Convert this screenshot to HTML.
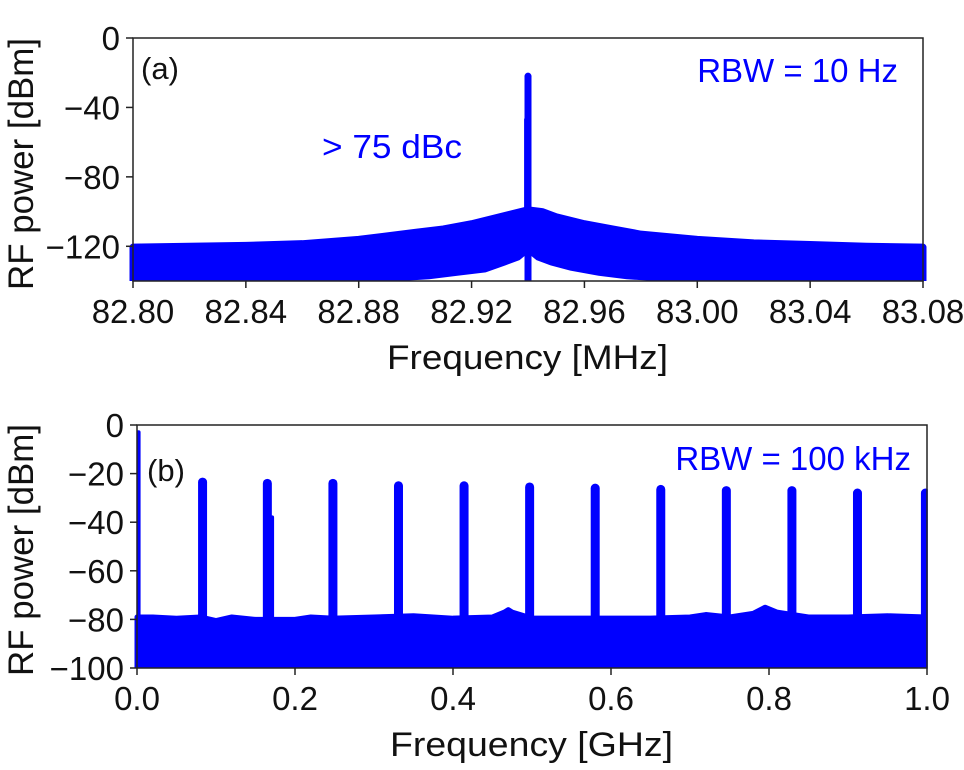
<!DOCTYPE html>
<html><head><meta charset="utf-8"><style>
html,body{margin:0;padding:0;background:#fff;}
svg{display:block;font-family:"Liberation Sans",sans-serif;}
</style></head><body>
<svg id="chart" width="964" height="770" viewBox="0 0 964 770"></svg>
<script>
// ---- Panel (a) data ----
const aEnvFreq=[82.80,82.82,82.84,82.86,82.88,82.90,82.91,82.92,82.93,82.935,82.94,82.945,82.95,82.96,82.97,82.98,83.00,83.02,83.04,83.06,83.08];
const aEnvPow=[-120.5,-120,-119.5,-118.5,-116,-112,-110,-107,-103,-101,-99,-100,-103,-107,-110,-113,-116,-118,-119,-120,-120.5];
const aNotchFreq=[82.895,82.905,82.915,82.925,82.932,82.937,82.94,82.943,82.948,82.955,82.965,82.975,82.985];
const aNotchPow=[-140,-139,-137,-135,-131,-128,-124,-128,-131,-134,-137,-139,-140];
const aPeakFreq=[82.94,82.9395];
const aPeakPow=[-22,-47];
const aXTicks=[82.80,82.84,82.88,82.92,82.96,83.00,83.04,83.08];
const aXTickLabels=["82.80","82.84","82.88","82.92","82.96","83.00","83.04","83.08"];
const aYTicks=[0,-40,-80,-120];
const aYTickLabels=["0","\u221240","\u221280","\u2212120"];
// ---- Panel (b) data ----
const bPeakFreq=[0.002,0.083,0.165,0.171,0.248,0.331,0.414,0.497,0.580,0.663,0.746,0.829,0.912,0.998];
const bPeakPow=[-3,-23.5,-24,-38,-24,-25,-25,-25.5,-26,-26.5,-27,-27,-28,-28];
const bFloorFreq=[0,0.02,0.05,0.08,0.1,0.12,0.15,0.2,0.22,0.25,0.3,0.35,0.4,0.45,0.465,0.47,0.475,0.5,0.55,0.6,0.65,0.7,0.72,0.75,0.78,0.795,0.81,0.85,0.9,0.95,1.0];
const bFloorPow=[-79,-79,-79.5,-79,-80.5,-79,-80,-80,-79,-79.5,-79,-78.5,-79.5,-79,-77,-76,-77,-79.5,-79.5,-79.5,-79.5,-79,-78,-79,-77.5,-75,-77,-79,-79,-78.5,-79];
const bXTicks=[0,0.2,0.4,0.6,0.8,1.0];
const bXTickLabels=["0.0","0.2","0.4","0.6","0.8","1.0"];
const bYTicks=[0,-20,-40,-60,-80,-100];
const bYTickLabels=["0","\u221220","\u221240","\u221260","\u221280","\u2212100"];

const NS="http://www.w3.org/2000/svg";
const svg=document.getElementById('chart');
function mk(tag,attrs,parent){const e=document.createElementNS(NS,tag);for(const k in attrs)e.setAttribute(k,attrs[k]);(parent||svg).appendChild(e);return e;}
const BLUE="#0000ff";

const A={x0:133,x1:923,y0:38,y1:281,fmin:82.80,fmax:83.08,pmax:0,pmin:-140};
const ax=f=>A.x0+(f-A.fmin)/(A.fmax-A.fmin)*(A.x1-A.x0);
const ay=p=>A.y0+(A.pmax-p)/(A.pmax-A.pmin)*(A.y1-A.y0);
const B={x0:137,x1:927,y0:425,y1:668,fmin:0,fmax:1,pmax:0,pmin:-100};
const bx=f=>B.x0+(f-B.fmin)/(B.fmax-B.fmin)*(B.x1-B.x0);
const by=p=>B.y0+(B.pmax-p)/(B.pmax-B.pmin)*(B.y1-B.y0);

// ---- Panel A ----
const gA=mk('g',{});


let pts=[[ax(aEnvFreq[0]),A.y1]];
aEnvFreq.forEach((f,i)=>pts.push([ax(f),ay(aEnvPow[i])]));
pts.push([ax(aEnvFreq[aEnvFreq.length-1]),A.y1]);
const envA=mk('polygon',{points:pts.map(p=>p.join(',')).join(' '),fill:BLUE,stroke:BLUE,'stroke-width':7,'stroke-linejoin':'round'},gA);


let np=[[ax(aNotchFreq[0]),A.y1]];
aNotchFreq.forEach((f,i)=>np.push([ax(f),ay(aNotchPow[i])]));
np.push([ax(aNotchFreq[aNotchFreq.length-1]),A.y1]);
const notch=mk('polygon',{points:np.map(p=>p.join(',')).join(' '),fill:'#fff'},gA);


const colA=mk('line',{x1:ax(82.94),x2:ax(82.94),y1:A.y1,y2:ay(-110),stroke:BLUE,'stroke-width':7},gA);


aPeakFreq.forEach((f,i)=>{
  const l=mk('line',{x1:ax(f),x2:ax(f),y1:ay(-105),y2:ay(aPeakPow[i]),stroke:BLUE,'stroke-width':i==0?7:5,'stroke-linecap':'round'},gA);
  
  
});
mk('rect',{x:0,y:A.y1,width:964,height:12,fill:'#fff'});
const frA=mk('rect',{x:A.x0,y:A.y0,width:A.x1-A.x0,height:A.y1-A.y0,fill:'none',stroke:'#222','stroke-width':1.5});


aXTicks.forEach((t,i)=>{
  mk('line',{x1:ax(t),x2:ax(t),y1:A.y1,y2:A.y1+7,stroke:'#222','stroke-width':1.5});
  const tx=mk('text',{x:ax(t),y:A.y1+42,'text-anchor':'middle','font-size':33,fill:'#111'});
  tx.textContent=aXTickLabels[i];
  
  
});
aYTicks.forEach((t,i)=>{
  mk('line',{x1:A.x0-7,x2:A.x0,y1:ay(t),y2:ay(t),stroke:'#222','stroke-width':1.5});
  const tx=mk('text',{x:A.x0-13,y:ay(t)+12,'text-anchor':'end','font-size':33,fill:'#111'});
  tx.textContent=aYTickLabels[i];
  
  
});

// ---- Panel B ----
const gB=mk('g',{});


let pb=[[bx(bFloorFreq[0]),B.y1]];
bFloorFreq.forEach((f,i)=>pb.push([bx(f),by(bFloorPow[i])]));
pb.push([bx(1),B.y1]);
const envB=mk('polygon',{points:pb.map(p=>p.join(',')).join(' '),fill:BLUE,stroke:BLUE,'stroke-width':5,'stroke-linejoin':'round'},gB);


bPeakFreq.forEach((f,i)=>{
  const l=mk('line',{x1:bx(f),x2:bx(f),y1:by(-80),y2:by(bPeakPow[i]),stroke:BLUE,'stroke-width':i==0||i==3?4:9,'stroke-linecap':'round'},gB);
  
  
});
mk('rect',{x:0,y:B.y1,width:964,height:12,fill:'#fff'});
mk('rect',{x:B.x1+0.8,y:B.y0-10,width:20,height:B.y1-B.y0+20,fill:'#fff'});
const frB=mk('rect',{x:B.x0,y:B.y0,width:B.x1-B.x0,height:B.y1-B.y0,fill:'none',stroke:'#222','stroke-width':1.5});


bXTicks.forEach((t,i)=>{
  mk('line',{x1:bx(t),x2:bx(t),y1:B.y1,y2:B.y1+7,stroke:'#222','stroke-width':1.5});
  const tx=mk('text',{x:bx(t),y:B.y1+42,'text-anchor':'middle','font-size':33,fill:'#111'});
  tx.textContent=bXTickLabels[i];
  
  
});
bYTicks.forEach((t,i)=>{
  mk('line',{x1:B.x0-7,x2:B.x0,y1:by(t),y2:by(t),stroke:'#222','stroke-width':1.5});
  const tx=mk('text',{x:B.x0-13,y:by(t)+12,'text-anchor':'end','font-size':33,fill:'#111'});
  tx.textContent=bYTickLabels[i];
  
  
});
</script>
<svg width="964" height="770" style="position:absolute;left:0;top:0;font-family:'Liberation Sans',sans-serif">
<text x="141" y="79" font-size="31" fill="#111">(a)</text>
<text x="898" y="82" font-size="33" fill="#0000ff" text-anchor="end">RBW = 10 Hz</text>
<text x="322" y="158" font-size="33" fill="#0000ff" textLength="140" lengthAdjust="spacingAndGlyphs">&gt; 75 dBc</text>
<text x="147" y="481" font-size="31" fill="#111">(b)</text>
<text x="911" y="470" font-size="33" fill="#0000ff" text-anchor="end">RBW = 100 kHz</text>
<text x="387" y="369" font-size="34" fill="#111" textLength="281" lengthAdjust="spacingAndGlyphs">Frequency [MHz]</text>
<text x="390" y="756" font-size="34" fill="#111" textLength="283" lengthAdjust="spacingAndGlyphs">Frequency [GHz]</text>
<text transform="translate(33,290) rotate(-90)" x="0" y="0" font-size="35" fill="#111" textLength="252" lengthAdjust="spacingAndGlyphs">RF power [dBm]</text>
<text transform="translate(33,676) rotate(-90)" x="0" y="0" font-size="35" fill="#111" textLength="252" lengthAdjust="spacingAndGlyphs">RF power [dBm]</text>
</svg>
</body></html>
